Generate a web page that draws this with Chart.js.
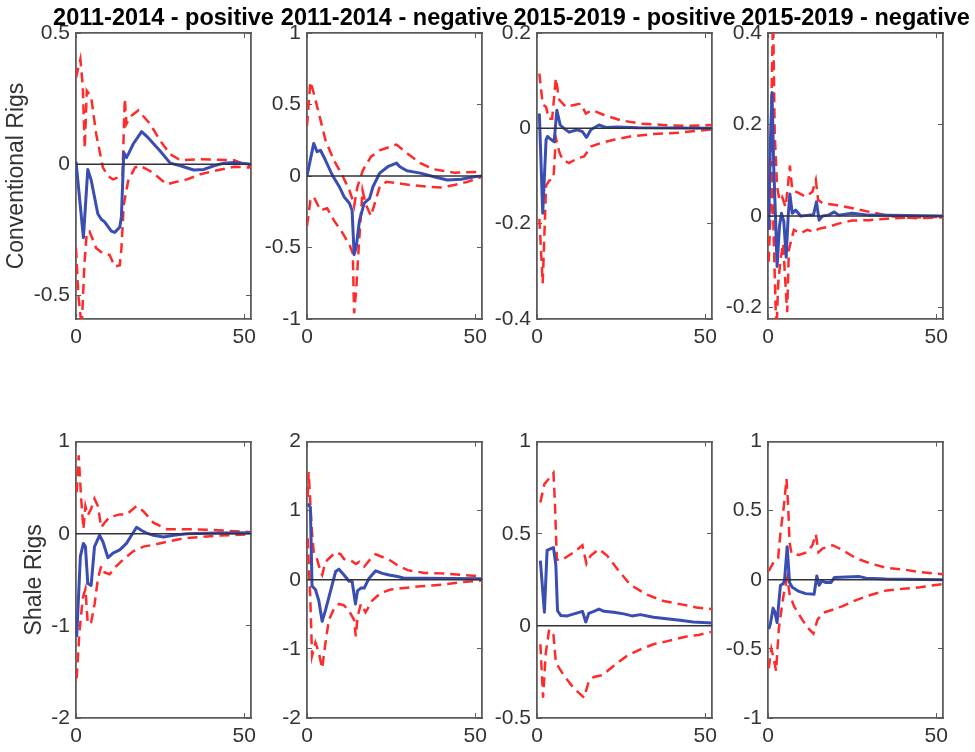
<!DOCTYPE html>
<html>
<head>
<meta charset="utf-8">
<script src="https://cdn.jsdelivr.net/npm/chart.js@4.4.1/dist/chart.umd.min.js"></script>
<style>
  html, body { margin: 0; padding: 0; background: #fff; }
  body { position: relative; width: 975px; height: 752px; overflow: hidden; }
  canvas { position: absolute; }
</style>
</head>
<body>
<script>
// column titles and row labels
const titles = ['2011-2014 - positive', '2011-2014 - negative', '2015-2019 - positive', '2015-2019 - negative'];
const rowLabels = ['Conventional Rigs', 'Shale Rigs'];

const xTicks = [0, 50];
const xRange = [0, 52];
const baseline = [[0, 0], [52, 0]];

// y tick labels per panel
const yTicks1 = [-0.5, 0, 0.5];
const yTicks2 = [-1, -0.5, 0, 0.5, 1];
const yTicks3 = [-0.4, -0.2, 0, 0.2];
const yTicks4 = [-0.2, 0, 0.2, 0.4];
const yTicks5 = [-2, -1, 0, 1];
const yTicks6 = [-2, -1, 0, 1, 2];
const yTicks7 = [-0.5, 0, 0.5, 1];
const yTicks8 = [-1, -0.5, 0, 0.5, 1];

// Conventional rigs, 2011-2014 positive
const blue1 = [[0,0.01],[2.2,-0.28],[3.5,-0.02],[4.5,-0.06],[6.5,-0.19],[7.5,-0.21],[8.5,-0.22],[10.5,-0.255],[11.5,-0.26],[13,-0.24],[13.5,-0.2],[14.2,0.045],[15,0.025],[15.8,0.045],[17,0.077],[19.5,0.124],[21.5,0.1],[25,0.05],[28,0.004],[31,-0.006],[35,-0.022],[38,-0.02],[41,-0.006],[44,0.004],[47,0.006],[52,0]];
const upper1 = [[0,0.33],[1.3,0.4],[2,0.3],[2.6,0.06],[3.2,0.28],[4.5,0.256],[6,0.115],[8,-0.013],[9.5,-0.045],[11,-0.058],[12.5,-0.05],[13.8,-0.05],[14.5,0.25],[15,0.154],[16,0.18],[18.5,0.205],[22,0.154],[25,0.09],[28,0.038],[31,0.015],[37,0.019],[47,0.015],[52,-0.01]];
const lower1 = [[0,-0.32],[0.7,-0.5],[1.7,-0.62],[2.5,-0.38],[3.2,-0.26],[4,-0.256],[6,-0.32],[8,-0.34],[10,-0.346],[11.5,-0.39],[13,-0.385],[13.5,-0.32],[14.2,-0.154],[15.5,-0.064],[17.5,-0.013],[19,-0.006],[22,-0.026],[24,-0.045],[27,-0.077],[29,-0.07],[33,-0.058],[37,-0.038],[42,-0.023],[47,-0.01],[52,-0.013]];

// Conventional rigs, 2011-2014 negative
const blue2 = [[0,0],[2,0.228],[3,0.17],[4,0.18],[5.5,0.11],[7.5,0.007],[9.6,-0.075],[11,-0.145],[12.6,-0.19],[13.4,-0.24],[14,-0.55],[14.6,-0.5],[15.6,-0.31],[17,-0.19],[18.6,-0.156],[19.6,-0.075],[21.6,0.02],[24,0.065],[26.6,0.09],[27.6,0.065],[29.7,0.037],[33.7,0.02],[37.7,-0.005],[41.7,-0.028],[45.8,-0.023],[49.8,-0.005],[52,0]];
const upper2 = [[0,0.35],[1,0.66],[2,0.58],[3.5,0.44],[5.5,0.25],[8,0.11],[10.6,0],[12.6,-0.1],[13.6,-0.17],[14,-0.21],[15,-0.075],[16.6,0.04],[19,0.135],[21.6,0.18],[26.6,0.22],[29.7,0.16],[33.7,0.09],[37.7,0.047],[43.8,0.023],[52,0.03]];
const lower2 = [[0,-0.35],[1,-0.17],[2,-0.145],[4,-0.24],[6,-0.226],[8,-0.31],[10.6,-0.4],[12.6,-0.48],[13.6,-0.54],[14,-0.96],[14.6,-0.8],[15.5,-0.45],[16.5,-0.1],[17.5,-0.2],[19,-0.28],[21.6,-0.075],[23.6,-0.04],[26.6,-0.05],[30.7,-0.063],[35.7,-0.075],[39.7,-0.08],[43.8,-0.063],[47.8,-0.04],[52,-0.005]];

// Conventional rigs, 2015-2019 positive
const blue3 = [[0.7,0.031],[1.7,-0.178],[2.7,-0.024],[3.1,-0.017],[4.1,-0.023],[5.1,-0.028],[5.9,0.038],[6.9,0.007],[8,0],[9.5,-0.008],[12,-0.003],[13.5,-0.007],[14.7,-0.019],[16,-0.003],[18.4,0.007],[20.4,0.002],[23.8,0.003],[30,0.001],[52,0]];
const upper3 = [[0.7,0.115],[1.7,0.05],[2.7,0.045],[3.5,0.02],[4.5,0.02],[5.6,0.105],[6.6,0.06],[8.6,0.045],[11,0.049],[13,0.052],[14.5,0.031],[16.4,0.038],[19.9,0.028],[24.8,0.017],[30.7,0.01],[37.6,0.007],[44.5,0.005],[52,0.007]];
const lower3 = [[0.7,-0.19],[1.7,-0.325],[2.7,-0.12],[3.6,-0.11],[4.9,-0.105],[5.6,-0.02],[6.6,-0.049],[7.6,-0.066],[9.5,-0.073],[12,-0.063],[14,-0.059],[16,-0.038],[18.9,-0.031],[22.8,-0.024],[27.7,-0.017],[34.6,-0.012],[42.5,-0.009],[52,-0.002]];

// Conventional rigs, 2015-2019 negative
const blue4 = [[0.2,-0.03],[0.7,0.16],[1.2,0.27],[1.7,0.108],[2.4,-0.038],[2.7,-0.11],[3.4,-0.023],[4,0.006],[4.7,-0.012],[5.4,-0.09],[6,0],[6.5,0.048],[7.2,0.006],[8.2,0.013],[9.7,0],[12.2,0.002],[13.5,0.002],[14.4,0.031],[15.2,-0.009],[16.2,0],[18,0.002],[19.7,0.009],[21,0.002],[25,0.006],[30,0.002],[52,0]];
const upper4 = [[0.2,0.07],[0.8,0.15],[1.5,0.45],[2,0.18],[2.7,0.064],[3.4,0.035],[4.2,0.042],[5.2,0.02],[5.9,0.064],[6.5,0.11],[7.2,0.057],[9.2,0.05],[11.2,0.042],[13.2,0.053],[14.2,0.079],[14.9,0.035],[16.2,0.028],[20.2,0.024],[25.2,0.017],[30.2,0.009],[37.2,-0.001],[44,-0.005],[52,-0.003]];
const lower4 = [[0.2,-0.1],[0.7,0],[1.2,0.12],[1.7,-0.05],[2.5,-0.26],[3,-0.15],[3.7,-0.096],[4.5,-0.06],[5.2,-0.15],[5.7,-0.21],[6.2,-0.074],[7.7,-0.03],[9.7,-0.038],[11.7,-0.03],[13.7,-0.035],[15,-0.028],[18.2,-0.023],[21.2,-0.016],[25,-0.01],[30,-0.009],[37,-0.005],[44,-0.003],[52,-0.002]];

// Shale rigs, 2011-2014 positive
const blue5 = [[0.2,-1.12],[1.3,-0.245],[2.2,-0.105],[2.8,-0.14],[3.5,-0.54],[4.5,-0.56],[5.5,-0.14],[7,-0.017],[8,-0.087],[9.5,-0.26],[11,-0.21],[13,-0.175],[15,-0.105],[16.5,-0.017],[18,0.07],[19.5,0.035],[21,0.007],[23,-0.017],[26,-0.035],[29,-0.017],[33,0],[42,0.007],[52,0.01]];
const upper5 = [[0.2,0.45],[0.8,0.85],[1.5,0.4],[2.2,0.05],[2.8,0.3],[3.5,0.2],[4.5,0.27],[5.5,0.38],[6.5,0.3],[7.5,0.07],[8.5,0.12],[10,0.18],[13,0.21],[15,0.21],[18,0.3],[20,0.245],[23,0.12],[27,0.05],[33,0.05],[41,0.04],[52,0.017]];
const lower5 = [[0.2,-1.57],[1,-1.08],[2,-0.7],[2.8,-0.6],[3.5,-0.98],[4.5,-0.96],[5.5,-0.77],[6.5,-0.49],[7.5,-0.35],[8.5,-0.42],[10,-0.44],[12,-0.35],[14,-0.28],[17,-0.19],[20,-0.14],[23,-0.12],[27,-0.087],[32,-0.05],[37,-0.035],[42,-0.02],[52,-0.007]];

// Shale rigs, 2011-2014 negative
const blue6 = [[0.2,1.1],[1,1.05],[1.5,-0.09],[2.5,-0.14],[3.5,-0.3],[4.5,-0.6],[5.5,-0.44],[7,-0.16],[8.5,0.12],[9.5,0.154],[11,0.07],[12.5,-0.02],[13.4,-0.02],[14.4,-0.35],[15,-0.16],[16,-0.12],[17,-0.12],[18.4,0.02],[20.4,0.13],[22.4,0.093],[24.4,0.07],[26.9,0.047],[28.9,0.023],[35,0.023],[52,0.014]];
const upper6 = [[0.2,1.2],[0.5,1.56],[1,1.1],[1.5,0.68],[2,0.4],[3,0.3],[4,0.12],[4.5,0.07],[5.5,0.26],[7,0.33],[8.5,0.4],[10,0.37],[11,0.3],[13,0.28],[14.5,0.23],[15.5,0.26],[17,0.19],[18.5,0.28],[20.4,0.37],[22.4,0.33],[24.4,0.29],[26.9,0.21],[29.9,0.14],[34.9,0.1],[40,0.093],[46,0.07],[52,0.047]];
const lower6 = [[0.2,0.6],[1,-0.3],[1.5,-1.1],[2.5,-0.91],[3.5,-1.05],[4.5,-1.28],[5.5,-0.91],[6.5,-0.58],[8,-0.42],[9.5,-0.35],[11,-0.37],[12.5,-0.45],[14,-0.58],[14.5,-0.82],[15,-0.54],[16,-0.35],[17.4,-0.47],[19.4,-0.3],[21.9,-0.19],[24.9,-0.14],[28.9,-0.12],[33.9,-0.093],[40,-0.07],[46,-0.035],[52,-0.01]];

// Shale rigs, 2015-2019 positive
const blue7 = [[1,0.354],[2.2,0.074],[3,0.41],[3.6,0.415],[4.9,0.425],[5.6,0.33],[6.1,0.082],[7.1,0.056],[9,0.054],[11,0.065],[13.5,0.079],[14.5,0.021],[15.4,0.068],[16.9,0.079],[18.4,0.091],[19.9,0.079],[22.8,0.074],[25.8,0.065],[28.2,0.054],[30.7,0.061],[34.6,0.047],[38.5,0.039],[42.5,0.03],[46.4,0.021],[52,0.016]];
const upper7 = [[1,0.67],[2.2,0.77],[3.6,0.8],[4.9,0.83],[5.3,0.68],[5.9,0.36],[7.1,0.354],[11,0.4],[13.5,0.437],[14.7,0.337],[15.9,0.38],[18.4,0.416],[20.9,0.38],[23.8,0.31],[27.7,0.223],[32.6,0.17],[37.6,0.135],[42.5,0.118],[47.4,0.1],[52,0.091]];
const lower7 = [[1,-0.1],[1.8,-0.39],[2.6,-0.15],[3.6,-0.02],[4.9,-0.05],[5.6,-0.2],[8,-0.27],[11,-0.34],[14,-0.39],[15.4,-0.3],[16.9,-0.277],[19.4,-0.268],[22.8,-0.216],[26.7,-0.163],[30.7,-0.128],[34.6,-0.1],[38.5,-0.084],[44.4,-0.058],[48,-0.049],[52,-0.032]];

// Shale rigs, 2015-2019 negative
const blue8 = [[0.2,-0.357],[0.7,-0.32],[1.5,-0.205],[2,-0.23],[2.7,-0.31],[3.2,-0.17],[3.7,-0.04],[4.4,-0.03],[4.9,-0.007],[5.7,0.24],[6.4,-0.02],[7.2,-0.054],[9.2,-0.084],[11.2,-0.1],[13.7,-0.105],[14.5,0.028],[15.2,-0.04],[16,-0.007],[17.2,-0.02],[18.7,-0.02],[19.7,0.016],[23.2,0.02],[27.2,0.023],[29.2,0.012],[35,0.005],[52,0]];
const upper8 = [[0.2,0.063],[1.7,0.13],[3,0.156],[3.7,0.34],[4.7,0.53],[5.5,0.73],[6,0.53],[6.4,0.27],[7,0.19],[9.2,0.18],[11.7,0.2],[13.2,0.25],[14.2,0.33],[15,0.2],[16.2,0.226],[19.2,0.25],[22.2,0.214],[26.2,0.156],[30.2,0.12],[35.2,0.086],[40.2,0.075],[45.2,0.056],[52,0.04]];
const lower8 = [[0.2,-0.64],[1,-0.5],[1.7,-0.57],[2.4,-0.66],[3.2,-0.357],[4,-0.217],[4.7,-0.1],[5.7,0.016],[6.4,-0.1],[7.7,-0.19],[10.2,-0.29],[12.2,-0.357],[13.5,-0.39],[14.7,-0.29],[16.2,-0.24],[19.2,-0.217],[22.2,-0.19],[26.2,-0.147],[30.2,-0.112],[35.2,-0.077],[40.2,-0.065],[45.2,-0.054],[52,-0.03]];

const FONT = '"Liberation Sans", Arial, Helvetica, sans-serif';
const TEXT_COLOR = '#333';
const BOX_COLOR = '#5c5c5c';
const BLUE = '#3a4db3';
const RED = '#ff2b2b';

const PLOT_W = 175, PLOT_H = 286;
const colLeft = [76, 307, 537, 768];
const rowTop = [33, 432];

const panels = [
  { blue: blue1, upper: upper1, lower: lower1, yMin: -0.59, yMax: 0.5, yTicks: yTicks1, col: 0, row: 0 },
  { blue: blue2, upper: upper2, lower: lower2, yMin: -1, yMax: 1, yTicks: yTicks2, col: 1, row: 0 },
  { blue: blue3, upper: upper3, lower: lower3, yMin: -0.4, yMax: 0.2, yTicks: yTicks3, col: 2, row: 0 },
  { blue: blue4, upper: upper4, lower: lower4, yMin: -0.225, yMax: 0.4, yTicks: yTicks4, col: 3, row: 0 },
  { blue: blue5, upper: upper5, lower: lower5, yMin: -2, yMax: 1, yTicks: yTicks5, col: 0, row: 1 },
  { blue: blue6, upper: upper6, lower: lower6, yMin: -2, yMax: 2, yTicks: yTicks6, col: 1, row: 1 },
  { blue: blue7, upper: upper7, lower: lower7, yMin: -0.5, yMax: 1, yTicks: yTicks7, col: 2, row: 1 },
  { blue: blue8, upper: upper8, lower: lower8, yMin: -1, yMax: 1, yTicks: yTicks8, col: 3, row: 1 },
];

// draws the column title centred over the plot box, like MATLAB's title()
const panelTitle = {
  id: 'panelTitle',
  afterDraw(chart, args, opts) {
    if (!opts.text) return;
    const { ctx, chartArea } = chart;
    ctx.save();
    ctx.font = 'bold 23.5px ' + FONT;
    ctx.fillStyle = '#000';
    ctx.textAlign = 'center';
    ctx.textBaseline = 'alphabetic';
    ctx.fillText(opts.text, (chartArea.left + chartArea.right) / 2, chartArea.top - 8);
    ctx.restore();
  }
};

const toXY = (arr) => arr.map(([x, y]) => ({ x, y }));
const setTicks = (values) => (scale) => { scale.ticks = values.map((v) => ({ value: v })); };

function boxAxis(pos, min, max, ticks) {
  const horizontal = pos === 'top';
  return {
    type: 'linear',
    position: pos,
    min: min,
    max: max,
    afterBuildTicks: setTicks(ticks),
    afterFit: (s) => { if (horizontal) s.height = 0; else s.width = 0; },
    ticks: { display: false },
    grid: { drawOnChartArea: false, tickLength: -5, color: BOX_COLOR, lineWidth: 1 },
    border: { color: BOX_COLOR, width: 1.8 },
  };
}

function makePanel(p) {
  const yLabel = p.col === 0 ? rowLabels[p.row] : '';
  const title = p.row === 0 ? titles[p.col] : '';
  // axis width chosen so the rotated row label lands where it sits in the figure
  const axisW = p.col === 0 ? (p.row === 0 ? 73 : 55) : 70;
  const padTop = p.row === 0 ? 33 : 14;
  const padRight = 32;
  const axisH = 34;
  const plotLeft = colLeft[p.col];
  const plotTop = rowTop[p.row];

  const canvas = document.createElement('canvas');
  canvas.width = axisW + PLOT_W + padRight;
  canvas.height = padTop + PLOT_H + axisH;
  canvas.style.left = (plotLeft - axisW) + 'px';
  canvas.style.top = (plotTop - padTop) + 'px';
  document.body.appendChild(canvas);

  new Chart(canvas.getContext('2d'), {
    type: 'line',
    data: {
      datasets: [
        { data: toXY(baseline), borderColor: '#333', borderWidth: 1.5 },
        { data: toXY(p.blue), borderColor: BLUE, borderWidth: 3, borderJoinStyle: 'round' },
        { data: toXY(p.upper), borderColor: RED, borderWidth: 2.5, borderDash: [10, 6] },
        { data: toXY(p.lower), borderColor: RED, borderWidth: 2.5, borderDash: [10, 6] },
      ],
    },
    options: {
      responsive: false,
      animation: false,
      events: [],
      layout: { padding: { top: padTop, right: padRight, bottom: 0, left: 0 } },
      elements: { point: { radius: 0 }, line: { tension: 0, fill: false } },
      scales: {
        x: {
          type: 'linear',
          position: 'bottom',
          min: xRange[0],
          max: xRange[1],
          afterBuildTicks: setTicks(xTicks),
          afterFit: (s) => { s.height = axisH; },
          ticks: { color: TEXT_COLOR, font: { family: FONT, size: 21 }, padding: 11, maxRotation: 0, autoSkip: false, callback: (v) => String(v) },
          grid: { drawOnChartArea: false, tickLength: -5, color: BOX_COLOR, lineWidth: 1 },
          border: { color: BOX_COLOR, width: 1.8 },
        },
        y: {
          type: 'linear',
          position: 'left',
          min: p.yMin,
          max: p.yMax,
          afterBuildTicks: setTicks(p.yTicks),
          afterFit: (s) => { s.width = axisW; },
          ticks: { color: TEXT_COLOR, font: { family: FONT, size: 21 }, padding: 11, autoSkip: false, callback: (v) => String(v) },
          grid: { drawOnChartArea: false, tickLength: -5, color: BOX_COLOR, lineWidth: 1 },
          border: { color: BOX_COLOR, width: 1.8 },
          title: { display: !!yLabel, text: yLabel, color: TEXT_COLOR, font: { family: FONT, size: 23 }, padding: 0 },
        },
        x2: boxAxis('top', xRange[0], xRange[1], xTicks),
        y2: boxAxis('right', p.yMin, p.yMax, p.yTicks),
      },
      plugins: {
        legend: { display: false },
        tooltip: { enabled: false },
        panelTitle: { text: title },
      },
    },
    plugins: [panelTitle],
  });
}

panels.forEach(makePanel);
</script>
</body>
</html>
